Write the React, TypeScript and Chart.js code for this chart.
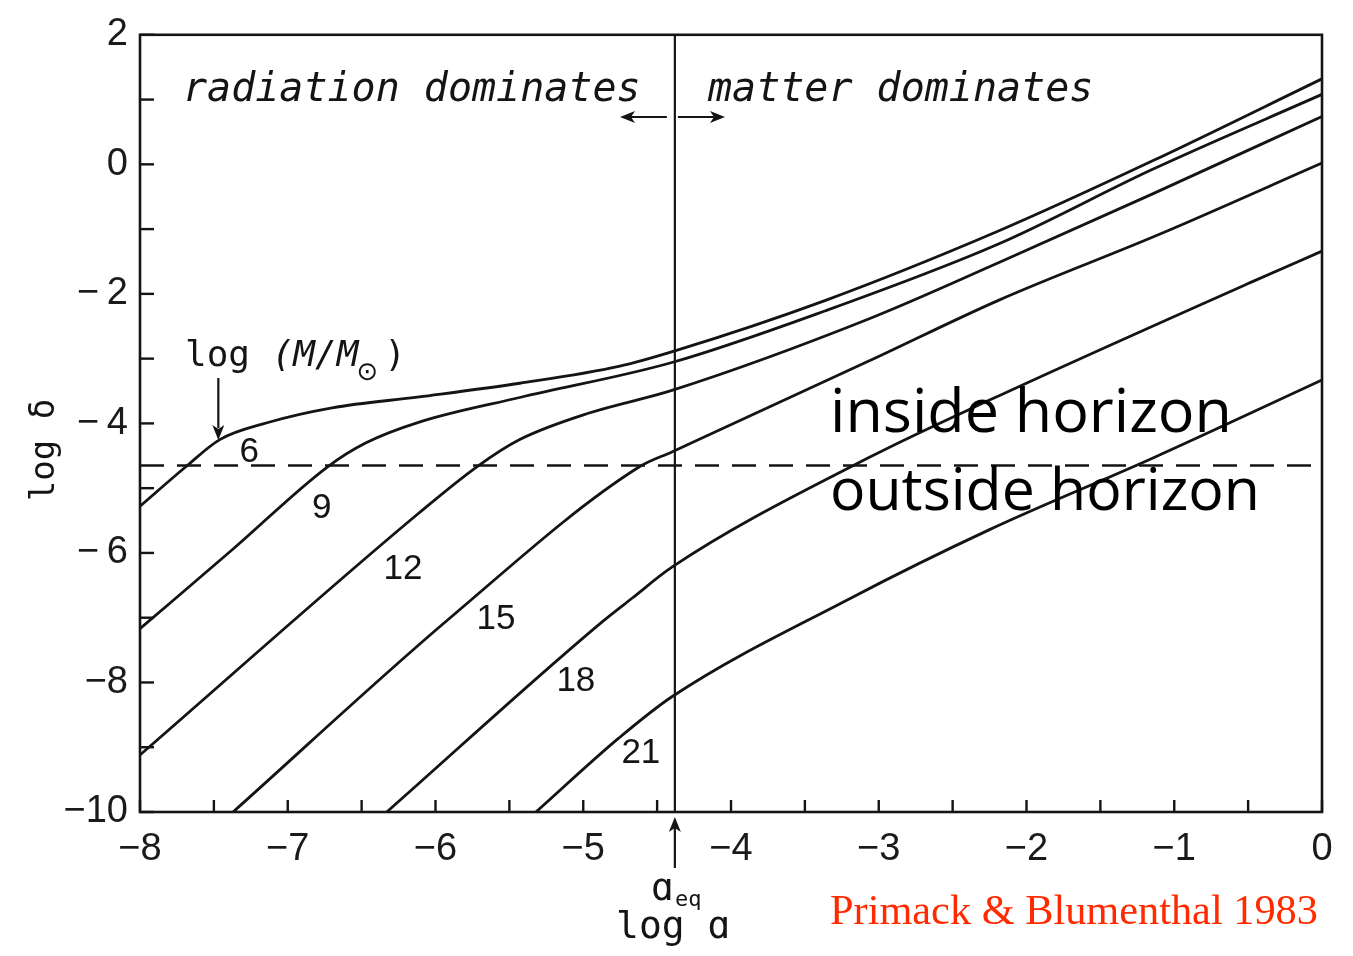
import React, { useEffect, useRef } from 'react';
import { Chart, registerables } from 'chart.js';

Chart.register(...registerables);

// ---- data ----
const massLabels = ['6', '9', '12', '15', '18', '21'];

const logA_M6 = [-8.0, -7.69, -7.46, -7.14, -6.7, -6.11, -5.43, -4.76, -4.38, -3.36, -2.19, -1.15, 0];
const logD_M6 = [-5.28, -4.67, -4.25, -3.99, -3.76, -3.59, -3.38, -3.12, -2.88, -2.1, -1.03, 0.05, 1.32];

const logA_M9 = [-8.0, -7.37, -6.73, -6.47, -6.11, -5.43, -4.4, -3.36, -2.19, -1.15, 0];
const logD_M9 = [-7.17, -5.94, -4.67, -4.3, -3.98, -3.6, -3.06, -2.26, -1.23, -0.08, 1.08];

const logA_M12 = [-8.0, -6.11, -5.72, -5.43, -4.96, -4.4, -3.06, -2.19, -1.15, 0];
const logD_M12 = [-9.12, -5.38, -4.67, -4.25, -3.84, -3.49, -2.38, -1.52, -0.46, 0.74];

const logA_M15 = [-7.37, -5.91, -4.62, -4.4, -3.06, -2.19, -1.1, 0];
const logD_M15 = [-10.0, -7.02, -4.67, -4.44, -3.03, -2.1, -1.08, 0.02];

const logA_M18 = [-6.33, -4.87, -4.67, -4.4, -3.06, -2.25, -0.49, 0];
const logD_M18 = [-10.0, -7.06, -6.7, -6.22, -4.52, -3.64, -1.83, -1.34];

const logA_M21 = [-5.32, -4.76, -4.4, -3.2, -2.25, -1.14, 0];
const logD_M21 = [-10.0, -8.86, -8.22, -6.71, -5.64, -4.53, -3.33];

// curve label anchor points (data coords)
const labelLogA = [-7.26, -6.77, -6.22, -5.59, -5.05, -4.61];
const labelLogD = [-4.44, -5.31, -6.25, -7.02, -7.99, -9.09];

const horizonLogD = -4.65; // dashed horizon-crossing line
const aEq = -4.38; // log a_eq

const xMin = -8, xMax = 0, xStep = 0.5;
const yMin = -10, yMax = 2, yStep = 1;

const INK = '#141414';
const MONO = "'DejaVu Sans Mono', monospace";
const SANS = "'Liberation Sans', Arial, sans-serif";

const curves = [
  [logA_M6, logD_M6],
  [logA_M9, logD_M9],
  [logA_M12, logD_M12],
  [logA_M15, logD_M15],
  [logA_M18, logD_M18],
  [logA_M21, logD_M21],
];

function fmt(v: number, spaced: boolean) {
  if (v < 0) return '\u2212' + (spaced && v > -7 ? '\u2009' : '') + String(Math.abs(v));
  return String(v);
}

function arrowHead(ctx: CanvasRenderingContext2D, tx: number, ty: number, dx: number, dy: number, len = 15, half = 6) {
  const bx = tx - dx * len, by = ty - dy * len;
  const px = -dy, py = dx;
  ctx.beginPath();
  ctx.moveTo(tx, ty);
  ctx.lineTo(bx + px * half, by + py * half);
  ctx.lineTo(bx + dx * 4, by + dy * 4);
  ctx.lineTo(bx - px * half, by - py * half);
  ctx.closePath();
  ctx.fill();
}

function fitSize(ctx: CanvasRenderingContext2D, text: string, style: string, family: string, w: number) {
  ctx.font = `${style} 100px ${family}`;
  return (100 * w) / ctx.measureText(text).width;
}

const annotPlugin = {
  id: 'annot',
  afterDatasetsDraw(chart: any) {
    const { ctx, chartArea: ca, scales } = chart;
    const xs = scales.x, ys = scales.y;
    ctx.save();
    ctx.strokeStyle = INK;
    ctx.fillStyle = INK;
    ctx.lineCap = 'butt';

    // frame
    ctx.lineWidth = 2.6;
    ctx.strokeRect(ca.left, ca.top, ca.right - ca.left, ca.bottom - ca.top);

    // inward ticks
    ctx.lineWidth = 2.4;
    ys.ticks.forEach((t: any) => {
      const py = ys.getPixelForValue(t.value);
      ctx.beginPath();
      ctx.moveTo(ca.left, py);
      ctx.lineTo(ca.left + 14, py);
      ctx.stroke();
    });
    xs.ticks.forEach((t: any) => {
      const px = xs.getPixelForValue(t.value);
      ctx.beginPath();
      ctx.moveTo(px, ca.bottom);
      ctx.lineTo(px, ca.bottom - 12);
      ctx.stroke();
    });

    // curve labels
    ctx.font = `35px ${SANS}`;
    ctx.textAlign = 'center';
    ctx.textBaseline = 'middle';
    massLabels.forEach((m, i) => {
      ctx.fillText(m, xs.getPixelForValue(labelLogA[i]), ys.getPixelForValue(labelLogD[i]));
    });

    // era captions
    ctx.textAlign = 'left';
    ctx.textBaseline = 'alphabetic';
    ctx.font = `italic 40px ${MONO}`;
    ctx.fillText('radiation dominates', 183, 101);
    ctx.fillText('matter dominates', 708, 101);

    const xe = xs.getPixelForValue(aEq);
    // double arrow near a_eq
    ctx.lineWidth = 2.2;
    ctx.beginPath();
    ctx.moveTo(xe - 8, 117);
    ctx.lineTo(620 + 10, 117);
    ctx.moveTo(xe + 3, 117);
    ctx.lineTo(725 - 10, 117);
    ctx.stroke();
    arrowHead(ctx, 620, 117, -1, 0);
    arrowHead(ctx, 725, 117, 1, 0);

    // log(M/Msun) label with arrow
    let cx = 185;
    ctx.font = `36px ${MONO}`;
    ctx.fillText('log', cx, 366);
    cx += ctx.measureText('log ').width;
    ctx.font = `italic 36px ${MONO}`;
    ctx.fillText('(M/M', cx, 366);
    cx += ctx.measureText('(M/M').width;
    ctx.font = `26px 'DejaVu Sans', sans-serif`;
    ctx.fillText('\u2299', cx - 2, 380);
    cx += ctx.measureText('\u2299').width + 4;
    ctx.font = `36px ${MONO}`;
    ctx.fillText(')', cx, 366);

    const xa = xs.getPixelForValue(labelLogA[0]) - 31;
    ctx.lineWidth = 2.2;
    ctx.beginPath();
    ctx.moveTo(xa, 378);
    ctx.lineTo(xa, 428);
    ctx.stroke();
    arrowHead(ctx, xa, 440, 0, 1);

    // a_eq marker below axis
    ctx.beginPath();
    ctx.moveTo(xe, 868);
    ctx.lineTo(xe, 828);
    ctx.stroke();
    arrowHead(ctx, xe, 817, 0, -1);
    ctx.font = `38px ${MONO}`;
    ctx.fillText('\u0251', 651, 900);
    ctx.font = `22px ${MONO}`;
    ctx.fillText('eq', 675, 906);

    // axis titles
    ctx.font = `38px ${MONO}`;
    ctx.fillText('log \u0251', 616, 938);
    ctx.save();
    ctx.translate(54, 450);
    ctx.rotate(-Math.PI / 2);
    ctx.textAlign = 'center';
    ctx.font = `34px ${MONO}`;
    ctx.fillText('log \u03b4', 0, 0);
    ctx.restore();

    // horizon captions
    const inside = 'inside horizon';
    const outside = 'outside horizon';
    let s = fitSize(ctx, inside, '', "'Open Sans', sans-serif", 402);
    ctx.font = `${s}px 'Open Sans', sans-serif`;
    ctx.fillStyle = '#000';
    ctx.fillText(inside, 830, 432);
    s = fitSize(ctx, outside, '', "'Open Sans', sans-serif", 430);
    ctx.font = `${s}px 'Open Sans', sans-serif`;
    ctx.fillText(outside, 830, 510);

    // citation
    const cite = 'Primack & Blumenthal 1983';
    s = fitSize(ctx, cite, '', "'Liberation Serif', serif", 488);
    ctx.font = `${s}px 'Liberation Serif', serif`;
    ctx.fillStyle = '#ff2a00';
    ctx.fillText(cite, 830, 924);

    ctx.restore();
  },
};

export default function App() {
  const ref = useRef<HTMLCanvasElement>(null);
  useEffect(() => {
    const datasets: any[] = curves.map(([xsArr, ysArr], i) => ({
      label: 'log M = ' + massLabels[i],
      data: xsArr.map((xv, j) => ({ x: xv, y: ysArr[j] })),
      borderColor: INK,
      borderWidth: 2.8,
      pointRadius: 0,
      cubicInterpolationMode: 'monotone',
      fill: false,
    }));
    datasets.push({
      label: 'horizon',
      data: [
        { x: xMin, y: horizonLogD },
        { x: xMax, y: horizonLogD },
      ],
      borderColor: INK,
      borderWidth: 2.6,
      borderDash: [24, 13],
      pointRadius: 0,
    });
    datasets.push({
      label: 'a_eq',
      data: [
        { x: aEq, y: yMin },
        { x: aEq, y: yMax },
      ],
      borderColor: INK,
      borderWidth: 2.2,
      pointRadius: 0,
    });

    const tickFont = { family: SANS, size: 38 };
    const chart = new Chart(ref.current as HTMLCanvasElement, {
      type: 'line',
      data: { datasets },
      options: {
        animation: false,
        responsive: false,
        maintainAspectRatio: false,
        layout: { padding: { top: 30, right: 31, left: 0, bottom: 0 } },
        plugins: { legend: { display: false }, tooltip: { enabled: false } },
        scales: {
          x: {
            type: 'linear',
            min: xMin,
            max: xMax,
            border: { display: false },
            grid: { display: false, drawTicks: false },
            ticks: {
              stepSize: xStep,
              autoSkip: false,
              maxRotation: 0,
              padding: 15,
              color: '#1a1a1a',
              font: tickFont,
              callback: (v: any) => (Number.isInteger(v) ? fmt(v, false) : ''),
            },
            afterFit: (s: any) => {
              s.height = 956 - 812;
            },
          },
          y: {
            type: 'linear',
            min: yMin,
            max: yMax,
            border: { display: false },
            grid: { display: false, drawTicks: false },
            ticks: {
              stepSize: yStep,
              autoSkip: false,
              padding: 12,
              color: '#1a1a1a',
              font: tickFont,
              callback: (v: any) => (v % 2 === 0 ? fmt(v, true) : ''),
            },
            afterFit: (s: any) => {
              s.width = 140;
            },
          },
        },
      } as any,
      plugins: [annotPlugin],
    });
    return () => chart.destroy();
  }, []);

  return (
    <div style={{ position: 'fixed', left: 0, top: 0, width: 1353, height: 956, background: '#fff' }}>
      <canvas ref={ref} width={1353} height={956} style={{ display: 'block', width: 1353, height: 956 }} />
    </div>
  );
}
